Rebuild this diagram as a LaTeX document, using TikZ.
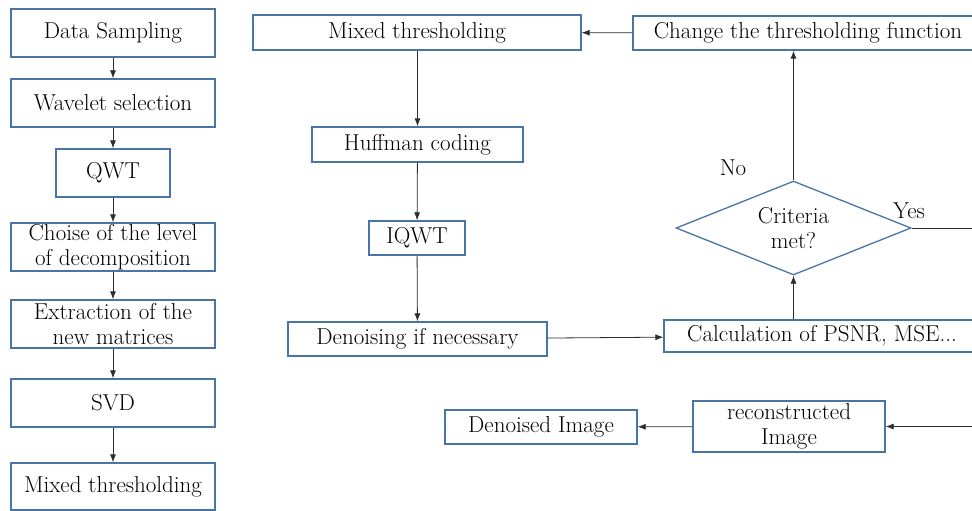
\documentclass[tikz,border=0pt]{standalone}
\usepackage{xcolor}
\definecolor{boxblue}{RGB}{72,116,166}
\definecolor{linegray}{RGB}{45,45,45}
\usetikzlibrary{arrows.meta,positioning,shapes.geometric}
\newcommand{\flowfont}{\rmfamily\fontsize{23}{25.5}\selectfont}
\tikzset{
  pbox/.style={draw=boxblue, line width=1.3pt, fill=white, inner sep=0pt,
               font=\flowfont, align=center, minimum width=#1},
  pbox/.default=204pt,
  pcheck/.style={draw=boxblue, line width=1.3pt, diamond, aspect=2.5, inner sep=0pt,
                 font=\flowfont, align=center, minimum width=235pt, minimum height=94pt},
  plabel/.style={font=\flowfont},
  flow/.style={draw=linegray, line width=0.8pt, -{Latex[length=8pt,width=6pt]}},
}

\begin{document}
\begin{tikzpicture}[x=1pt, y=-1pt]
\useasboundingbox (0,0) rectangle (972,511);
\clip (0,0) rectangle (972,511);

% --- Left column ---
\node[pbox, minimum height=48pt] (sampling) at (113,33) {Data Sampling};
\node[pbox, minimum height=48pt] (wavelet) at (113,103) {Wavelet selection};
\node[pbox=114pt, minimum height=48pt] (qwt) at (113,173) {QWT};
\node[pbox, minimum height=48pt] (level) at (113,247) {Choise of the level\\of decomposition};
\node[pbox, minimum height=48pt] (extract) at (113,324) {Extraction of the\\new matrices};
\node[pbox, minimum height=48pt] (svd) at (113,403) {SVD};
\node[pbox, minimum height=47pt] (mixedA) at (113,486.5) {Mixed thresholding};

\draw[flow] (sampling) -- (wavelet);
\draw[flow] (wavelet) -- (qwt);
\draw[flow] (qwt) -- (level);
\draw[flow] (level) -- (extract);
\draw[flow] (extract) -- (svd);
\draw[flow] (svd) -- (mixedA);

% --- Middle column ---
\node[pbox=328pt, minimum height=35pt] (mixedB) at (417,32.5) {Mixed thresholding};
\node[pbox=211pt, minimum height=35pt] (huffman) at (417.5,144.5) {Huffman coding};
\node[pbox=96pt, minimum height=34pt] (iqwt) at (417,238) {IQWT};
\node[pbox=259pt, minimum height=34pt] (denoise) at (417.5,339) {Denoising if necessary};

\draw[flow] (mixedB.south -| huffman) -- (huffman);
\draw[flow] (huffman) -- (iqwt);
\draw[flow] (iqwt) -- (denoise);

% --- Right column ---
\node[pbox=350pt, minimum height=34pt] (change) at (808,33) {Change the thresholding function};
\node[pcheck] (criteria) at (793.5,228) {Criteria\\met?};
\node[pbox=316pt, minimum height=32pt] (calc) at (822,336) {Calculation of PSNR, MSE...};
\node[plabel] (no) at (733,168) {No};
\node[plabel] (yes) at (909,211) {Yes};

\draw[flow] (change) -- (mixedB);
\draw[flow] (criteria) -- (criteria.north |- change.south);
\draw[flow] (denoise) -- (calc);
\draw[flow] (calc.north -| criteria) -- (criteria);
\coordinate (yesEnd) at (990,228);
\draw[draw=linegray, line width=0.8pt] (criteria.east) -- (yesEnd);

% --- Bottom row ---
\node[pbox=192pt, minimum height=34pt] (denoised) at (541,427) {Denoised Image};
\node[pbox=192pt, minimum height=51pt] (recon) at (789,426.5) {reconstructed\\Image};
\coordinate (reconIn) at (990,426.5);

\draw[flow] (recon) -- (denoised);
\draw[flow] (reconIn) -- (recon);

\end{tikzpicture}
\end{document}
